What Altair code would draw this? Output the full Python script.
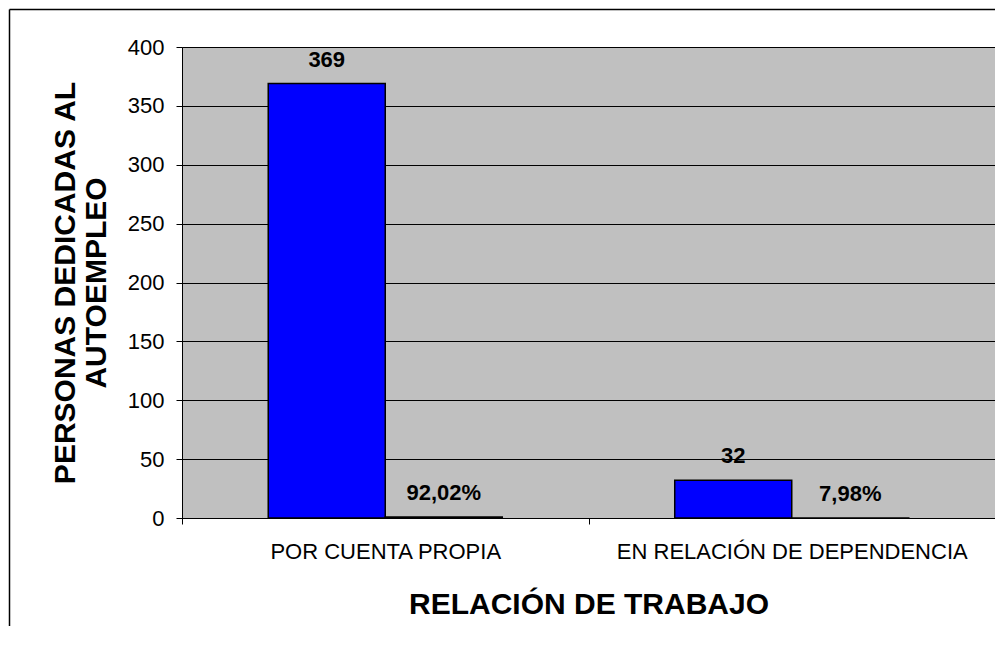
import altair as alt
import pandas as pd

categories = ["POR CUENTA PROPIA", "EN RELACIÓN DE DEPENDENCIA"]
series_names = ["Personas", "Porcentaje"]
count_values = [369, 32]
percent_values = [0.9202, 0.0798]
count_labels = ["369", "32"]
percent_labels = ["92,02%", "7,98%"]
y_ticks = [0, 50, 100, 150, 200, 250, 300, 350, 400]

rows = []
for i, c in enumerate(categories):
    rows.append({"cat": c, "serie": series_names[0], "valor": count_values[i], "etiqueta": count_labels[i]})
    rows.append({"cat": c, "serie": series_names[1], "valor": percent_values[i], "etiqueta": percent_labels[i]})
df = pd.DataFrame(rows)

FONT = "Liberation Sans"
BOTTOM_PAD = 108
W = 813
H = 471

x_enc = alt.X(
    "cat:N",
    sort=categories,
    scale=alt.Scale(paddingInner=0, paddingOuter=0),
    axis=alt.Axis(
        title="RELACIÓN DE TRABAJO",
        labelAngle=0,
        labelFontSize=22,
        labelFont=FONT,
        labelColor="black",
        labelPadding=17,
        labelLimit=0,
        tickBand="extent",
        tickSize=6,
        tickColor="black",
        domainColor="black",
        titleFont=FONT,
        titleFontSize=30,
        titleFontWeight="bold",
        titleColor="black",
        titleX=W / 2,
        titleY=86,
        titleBaseline="middle",
        titleAlign="center",
    ),
)
xoff_enc = alt.XOffset(
    "serie:N",
    sort=series_names,
    scale=alt.Scale(paddingOuter=0.737, paddingInner=0),
)
y_enc = alt.Y(
    "valor:Q",
    scale=alt.Scale(domain=[0, 400], nice=False),
    axis=alt.Axis(
        values=y_ticks,
        title=["PERSONAS DEDICADAS AL", "AUTOEMPLEO"],
        labelFontSize=22,
        labelFont=FONT,
        labelColor="black",
        labelPadding=12,
        tickSize=6,
        tickColor="black",
        domainColor="black",
        grid=True,
        gridColor="black",
        gridOpacity=1,
        gridWidth=1,
        titleFont=FONT,
        titleFontSize=30,
        titleFontWeight="bold",
        titleColor="black",
        titleAngle=-90,
        titleX=-117,
        titleY=H / 2,
        titleAlign="center",
        titleBaseline="middle",
        titleLineHeight=31,
    ),
)

bars = alt.Chart(df).mark_bar(stroke="black", strokeWidth=1.5).encode(
    x=x_enc,
    xOffset=xoff_enc,
    y=y_enc,
    color=alt.Color(
        "serie:N",
        sort=series_names,
        scale=alt.Scale(domain=series_names, range=["#0000FF", "#000000"]),
        legend=None,
    ),
)

texts = alt.Chart(df).mark_text(
    font=FONT, fontSize=22, fontWeight="bold", color="black", baseline="middle", dy=-24
).encode(
    x=alt.X("cat:N", sort=categories),
    xOffset=alt.XOffset("serie:N", sort=series_names),
    y=alt.Y("valor:Q"),
    text="etiqueta:N",
)

dummy = pd.DataFrame({"k": [0]})
frame_left = alt.Chart(dummy).mark_rule(color="black", strokeWidth=1.5).encode(
    x=alt.value(-172.5),
    y=alt.value(-37.5),
    y2=alt.value(H + BOTTOM_PAD),
)
frame_top = alt.Chart(dummy).mark_rule(color="black", strokeWidth=1.5).encode(
    x=alt.value(-172.5),
    x2=alt.value(W),
    y=alt.value(-37.5),
)

chart = alt.layer(bars, texts, frame_left, frame_top).properties(
    width=W,
    height=H,
    autosize=alt.AutoSizeParams(type="none"),
    padding={"left": 174, "top": 39, "right": 0, "bottom": BOTTOM_PAD},
).configure(
    background="white",
    view=alt.ViewConfig(fill="#C0C0C0", stroke="#808080", strokeWidth=1),
)

chart.save("out.html", embed_options={"renderer": "svg", "actions": False})
